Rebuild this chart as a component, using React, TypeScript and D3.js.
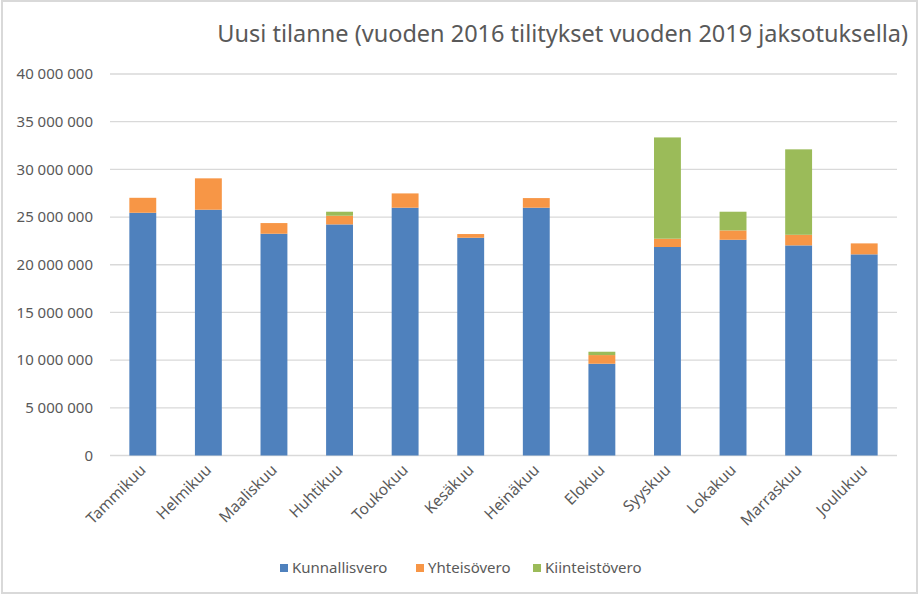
import React from "react";
import * as d3 from "d3";

const months = ["Tammikuu", "Helmikuu", "Maaliskuu", "Huhtikuu", "Toukokuu", "Kesäkuu", "Heinäkuu", "Elokuu", "Syyskuu", "Lokakuu", "Marraskuu", "Joulukuu"];
const seriesNames = ["Kunnallisvero", "Yhteisövero", "Kiinteistövero"];
const kunnallisvero = [25450000, 25770000, 23250000, 24230000, 25980000, 22830000, 25980000, 9620000, 21860000, 22620000, 22030000, 21090000];
const yhteisovero = [1570000, 3290000, 1120000, 910000, 1500000, 390000, 1010000, 910000, 870000, 980000, 1110000, 1150000];
const kiinteistovero = [0, 0, 0, 420000, 0, 0, 0, 350000, 10620000, 1960000, 8960000, 0];
const yTicks = [0, 5000000, 10000000, 15000000, 20000000, 25000000, 30000000, 35000000, 40000000];
const colors = ["#4F81BD", "#F79646", "#9BBB59"];
const title = "Uusi tilanne (vuoden 2016 tilitykset vuoden 2019 jaksotuksella)";

const W = 919, H = 596;
const FONT = "'Noto Sans', sans-serif";
const TXT = "#595959";

export default function App() {
  const x = d3.scaleBand<string>().domain(months).range([110, 897]).paddingInner(0.59).paddingOuter(0.295);
  const y = d3.scaleLinear().domain([0, 40000000]).range([455.5, 74]);
  const locale = d3.formatLocale({ decimal: ",", thousands: " ", grouping: [3], currency: ["", "€"] });
  const fmt = locale.format(",.0f");

  const table = months.map((m, i) => ({ month: m, [seriesNames[0]]: kunnallisvero[i], [seriesNames[1]]: yhteisovero[i], [seriesNames[2]]: kiinteistovero[i] }));
  const stacked = d3.stack<any>().keys(seriesNames)(table);

  const legendX = [280, 416, 533];

  return (
    <svg width={W} height={H} style={{ position: "fixed", left: 0, top: 0, background: "#fff" }} fontFamily={FONT}>
      <rect x={2} y={1} width={915} height={592} fill="#fff" stroke="#d9d9d9" strokeWidth={2} />
      <text x={908} y={42} textAnchor="end" fontSize={23.5} fill={TXT}>{title}</text>
      {yTicks.map((t) => (
        <g key={t}>
          <line x1={110} x2={897} y1={y(t)} y2={y(t)} stroke="#d9d9d9" strokeWidth={1.3} />
          <text x={93} y={y(t)} dy="0.35em" textAnchor="end" fontSize={15} fill={TXT}>{fmt(t)}</text>
        </g>
      ))}
      {stacked.map((s, si) => (
        <g key={s.key} fill={colors[si]}>
          {s.map((d, i) => {
            const h = y(d[0]) - y(d[1]);
            if (h <= 0) return null;
            return <rect key={i} x={x(months[i])!} y={y(d[1])} width={x.bandwidth()} height={h} />;
          })}
        </g>
      ))}
      {months.map((m) => {
        const cx = x(m)! + x.bandwidth() / 2 + 4;
        const cy = 471;
        return (
          <text key={m} x={cx} y={cy} textAnchor="end" fontSize={15.5} fill={TXT} transform={`rotate(-45 ${cx} ${cy})`}>{m}</text>
        );
      })}
      {seriesNames.map((n, i) => (
        <g key={n}>
          <rect x={legendX[i]} y={564} width={8} height={8} fill={colors[i]} />
          <text x={legendX[i] + 12} y={568} dy="0.35em" fontSize={15} fill={TXT}>{n}</text>
        </g>
      ))}
    </svg>
  );
}
